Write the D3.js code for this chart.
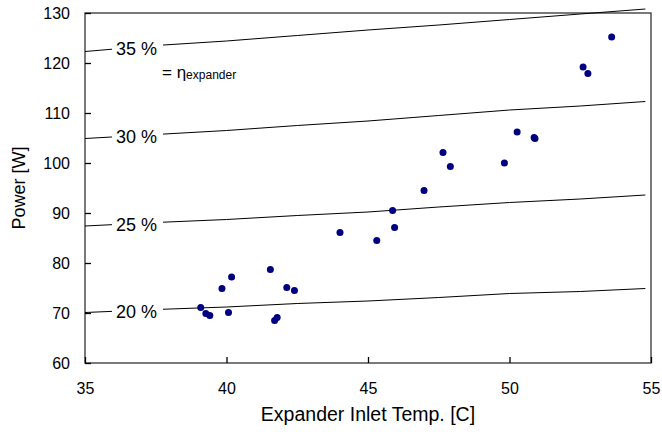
<!DOCTYPE html>
<meta charset="utf-8">
<style>
body { margin: 0; background: #fff; }
svg text { font-family: "Liberation Sans", Arial, sans-serif; fill: #000; }
.axis path, .axis line { stroke: #000; stroke-width: 1.3px; }
.eff { fill: none; stroke: #000; stroke-width: 1px; }
</style>
<svg width="662" height="436"></svg>
<script src="https://d3js.org/d3.v7.min.js"></script>
<script>
// measured points
var temps = [39.09, 39.27, 39.41, 39.84, 40.18, 40.07, 41.55, 41.70, 41.79, 42.13, 42.40,
             44.01, 45.31, 45.87, 45.94, 46.98, 47.65, 47.91,
             49.82, 50.27, 50.87, 50.90, 52.60, 52.77, 53.61];
var power = [71.1, 69.9, 69.5, 74.9, 77.2, 70.1, 78.7, 68.5, 69.1, 75.1, 74.5,
             86.1, 84.5, 90.5, 87.1, 94.5, 102.1, 99.3,
             100.0, 106.2, 105.1, 104.9, 119.2, 117.9, 125.2];

// efficiency lines (eta_expander)
var effLabels = ["35 %", "30 %", "25 %", "20 %"];
var effTemps = [35, 37.5, 40, 42.5, 45, 47.5, 50, 52.5, 54.8];
var eff35 = [122.3, 123.5, 124.4, 125.5, 126.6, 127.6, 128.7, 129.8, 130.8];
var eff30 = [104.9, 105.7, 106.5, 107.5, 108.4, 109.5, 110.6, 111.4, 112.3];
var eff25 = [87.4, 88.1, 88.7, 89.5, 90.2, 91.2, 92.1, 92.8, 93.6];
var eff20 = [70.1, 70.7, 71.2, 71.9, 72.4, 73.1, 73.9, 74.3, 74.9];

var xTicks = [35, 40, 45, 50, 55];
var yTicks = [60, 70, 80, 90, 100, 110, 120, 130];

var margin = {left: 85, top: 13, right: 11, bottom: 73};
var svg = d3.select("svg");
var width = 662 - margin.left - margin.right;
var height = 436 - margin.top - margin.bottom;
var g = svg.append("g")
    .attr("transform", "translate(" + margin.left + "," + margin.top + ")");

var x = d3.scaleLinear().domain([35, 55]).range([0, width]);
var y = d3.scaleLinear().domain([60, 130]).range([height, 0]);

// frame
g.append("rect")
    .attr("width", width).attr("height", height)
    .attr("fill", "none").attr("stroke", "#333").attr("stroke-width", 1.3);

// efficiency curves
var effSeries = [eff35, eff30, eff25, eff20];
var line = d3.line()
    .x(function(d, i) { return x(effTemps[i]); })
    .y(function(d) { return y(d); });

effSeries.forEach(function(s, k) {
    g.append("path").attr("class", "eff").attr("d", line(s));
    // label sits on the line, with a white gap
    var yl = y(s[0] + (s[1] - s[0]) * 0.45);
    g.append("rect")
        .attr("x", 27).attr("y", yl - 10)
        .attr("width", 51).attr("height", 20)
        .attr("fill", "#fff");
    g.append("text")
        .attr("x", 31).attr("y", yl)
        .attr("dy", "0.36em")
        .style("font-size", "18px")
        .text(effLabels[k]);
});

// eta note
var note = g.append("text")
    .attr("x", 77).attr("y", 65)
    .style("font-size", "17px");
note.append("tspan").text("= \u03b7");
note.append("tspan").style("font-size", "12px").attr("dy", 1).text("expander");

// axes
g.append("g")
    .attr("class", "axis")
    .attr("transform", "translate(0," + height + ")")
    .call(d3.axisBottom(x).tickValues(xTicks).tickSize(-6).tickPadding(20))
    .call(function(a) { a.select(".domain").remove(); })
    .selectAll("text").style("font-size", "16px");

g.append("g")
    .attr("class", "axis")
    .call(d3.axisLeft(y).tickValues(yTicks).tickSize(-6).tickPadding(15))
    .call(function(a) { a.select(".domain").remove(); })
    .selectAll("text").style("font-size", "16px");

// points
g.selectAll("circle.pt")
    .data(temps)
    .enter().append("circle")
    .attr("class", "pt")
    .attr("cx", function(d) { return x(d); })
    .attr("cy", function(d, i) { return y(power[i]); })
    .attr("r", 3.5)
    .attr("fill", "#000080");

// axis titles
svg.append("text")
    .attr("x", 368)
    .attr("y", 421)
    .attr("text-anchor", "middle")
    .style("font-size", "19.5px")
    .text("Expander Inlet Temp. [C]");

svg.append("text")
    .attr("transform", "translate(25," + 188 + ") rotate(-90)")
    .attr("text-anchor", "middle")
    .style("font-size", "18px")
    .text("Power [W]");
</script>
